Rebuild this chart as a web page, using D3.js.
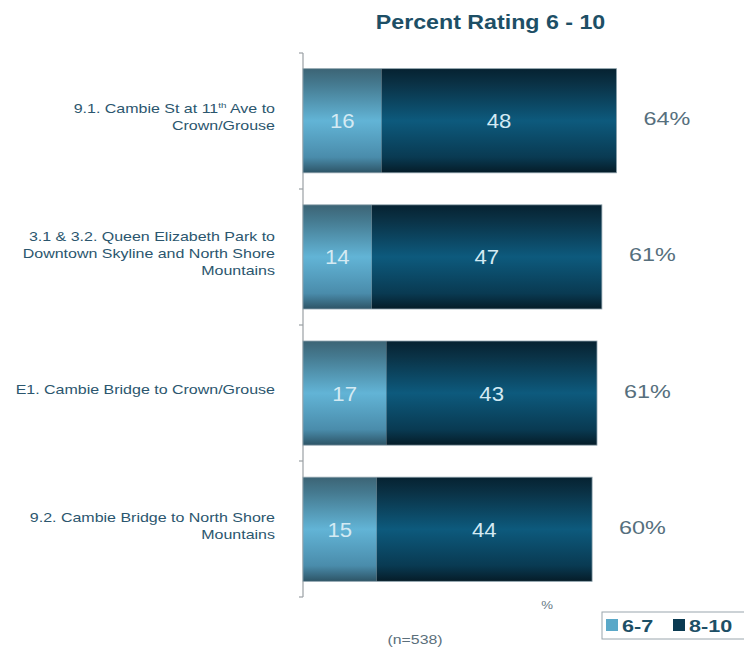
<!DOCTYPE html>
<html><head><meta charset="utf-8">
<script src="https://cdn.jsdelivr.net/npm/d3@7"></script>
<style>
html,body{margin:0;padding:0;background:#fff;}
svg{display:block;}
</style></head>
<body>
<svg id="chart" width="744" height="657"></svg>
<script>
const categories = [
  ["9.1. Cambie St at 11|th| Ave to", "Crown/Grouse"],
  ["3.1 & 3.2. Queen Elizabeth Park to", "Downtown Skyline and North Shore", "Mountains"],
  ["E1. Cambie Bridge to Crown/Grouse"],
  ["9.2. Cambie Bridge to North Shore", "Mountains"]
];
const ids = ["c1","c2","c3","c4"];
const series67 = [16, 14, 17, 15];
const series810 = [48, 47, 43, 44];
const totals = ["64%", "61%", "61%", "60%"];
const seriesNames = ["6-7", "8-10"];

const svg = d3.select("#chart");
const axisX = 303;
const x = d3.scaleLinear().domain([0, 100]).range([axisX, axisX + 490]);
const y = d3.scaleBand().domain(ids).range([53, 597]).paddingInner(0.235).paddingOuter(0.115);
const yTicks = d3.scaleBand().domain(ids).range([53, 597]);

const defs = svg.append("defs");
function grad(id, stops){
  const g = defs.append("linearGradient").attr("id", id).attr("x1",0).attr("y1",0).attr("x2",0).attr("y2",1);
  stops.forEach(s => g.append("stop").attr("offset", s[0]).attr("stop-color", s[1]));
}
grad("gLight", [[0,"#3c6475"],[0.15,"#457a90"],[0.5,"#62b4d6"],[0.85,"#4a8cab"],[1,"#2d5466"]]);
grad("gDark", [[0,"#062231"],[0.15,"#0a3246"],[0.5,"#0d5a7d"],[0.85,"#093a52"],[1,"#051c28"]]);

// stretched text helper
function stext(sel, tx, ty, sx, anchor){
  return sel.append("g").attr("transform", `translate(${tx},${ty}) scale(${sx},1)`)
    .append("text").attr("x",0).attr("y",0).attr("text-anchor", anchor || "start");
}
const sans = "Arial,'Liberation Sans',sans-serif";

// title
stext(svg, 490.5, 29, 1.19, "middle")
  .attr("font-family",sans).attr("font-weight","bold").attr("font-size",19.5).attr("fill","#1d4f66")
  .text("Percent Rating 6 - 10");

// axis line + ticks
svg.append("line").attr("x1",axisX).attr("x2",axisX).attr("y1",yTicks.range()[0]).attr("y2",yTicks.range()[1])
  .attr("stroke","#9aa0a4").attr("stroke-width",1.2);
const tickPos = ids.map(d => yTicks(d)).concat([yTicks.range()[1]]);
svg.selectAll(".tk").data(tickPos).join("line")
  .attr("x1",axisX-4).attr("x2",axisX).attr("y1",d=>d).attr("y2",d=>d)
  .attr("stroke","#9aa0a4").attr("stroke-width",1.2);

// bars
const rows = svg.selectAll(".row").data(ids).join("g").attr("class","row");
rows.append("rect").attr("x", x(0)).attr("y", d => y(d))
  .attr("width", (d,i) => x(series67[i]) - x(0)).attr("height", y.bandwidth())
  .attr("fill","url(#gLight)");
rows.append("rect").attr("x", (d,i) => x(series67[i])).attr("y", d => y(d))
  .attr("width", (d,i) => x(series67[i] + series810[i]) - x(series67[i])).attr("height", y.bandwidth())
  .attr("fill","url(#gDark)");
rows.append("rect").attr("x", x(0)).attr("y", d => y(d))
  .attr("width", (d,i) => x(series67[i] + series810[i]) - x(0)).attr("height", y.bandwidth())
  .attr("fill","none").attr("stroke","#90a4ae").attr("stroke-width",0.8);

rows.each(function(d,i){
  const g = d3.select(this);
  const cy = y(d) + y.bandwidth()/2;
  stext(g, (x(0)+x(series67[i]))/2, cy+7.5, 1.08, "middle")
    .attr("font-family",sans).attr("font-size",20.5).attr("fill","#d4eaf3").text(series67[i]);
  stext(g, (x(series67[i])+x(series67[i]+series810[i]))/2, cy+7.5, 1.08, "middle")
    .attr("font-family",sans).attr("font-size",20.5).attr("fill","#d4eaf3").text(series810[i]);
  stext(g, x(series67[i]+series810[i]) + 27, cy+4.5, 1.3, "start")
    .attr("font-family",sans).attr("font-size",18).attr("fill","#566f7d").text(totals[i]);

  // category label
  const lines = categories[i];
  const lh = 17;
  const y0 = cy - 4 - (lines.length-1)*lh/2 + 5;
  const t = stext(g, 275, 0, 1.23, "end")
    .attr("font-family",sans).attr("font-size",13).attr("fill","#2b566e");
  lines.forEach((ln,k) => {
    const parts = ln.split("|");
    const tsp = t.append("tspan").attr("x",0).attr("y", y0 + k*lh);
    if (parts.length === 3) {
      tsp.append("tspan").text(parts[0]);
      tsp.append("tspan").attr("dy",-5).attr("font-size",8).text(parts[1]);
      tsp.append("tspan").attr("dy",5).text(parts[2]);
    } else {
      tsp.text(ln);
    }
  });
});

// % and n
stext(svg, 547, 609, 1.2, "middle")
  .attr("font-family",sans).attr("font-size",11).attr("fill","#6a7d88").text("%");
stext(svg, 415, 644, 1.22, "middle")
  .attr("font-family",sans).attr("font-size",13).attr("fill","#5b6f7b").text("(n=538)");

// legend
const lg = svg.append("g").attr("transform","translate(602,612)");
lg.append("rect").attr("x",0).attr("y",0).attr("width",145).attr("height",27)
  .attr("fill","#fff").attr("stroke","#9aa6ad").attr("stroke-width",1);
const legX = [4, 71];
const legFill = ["#5aa8c8", "#0a3a52"];
seriesNames.forEach((n,i) => {
  lg.append("rect").attr("x",legX[i]).attr("y",7).attr("width",12).attr("height",12).attr("fill",legFill[i]);
  stext(lg, legX[i]+16, 20, 1.35, "start")
    .attr("font-family",sans).attr("font-weight","bold").attr("font-size",16).attr("fill","#1d4f66").text(n);
});
</script>
</body></html>
